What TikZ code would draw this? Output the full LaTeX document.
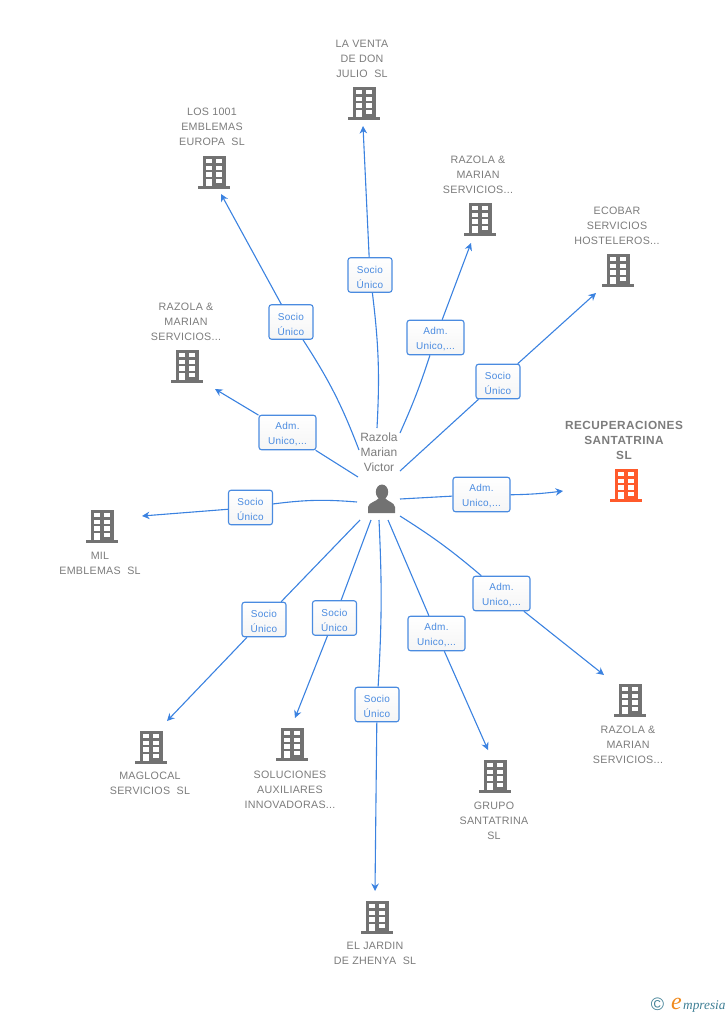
\documentclass[tikz,border=0pt]{standalone}
\usepackage{fontspec}
\setmainfont{Liberation Sans}
\newfontfamily\logofont{Liberation Serif}
\usetikzlibrary{positioning, arrows.meta}
\definecolor{linkblue}{HTML}{3B82E0}
\definecolor{boxblue}{HTML}{4A8BE0}
\definecolor{iconGray}{HTML}{727272}
\definecolor{txtGray}{HTML}{7C7C7C}
\definecolor{hiOrange}{HTML}{FF5A2B}
\definecolor{logoTeal}{HTML}{3F7F95}
\definecolor{logoOrange}{HTML}{F08A1E}
\tikzset{
  rolebox/.style={draw=boxblue, line width=1.1pt, rounded corners=2.5pt, top color=white, bottom color=black!4,
    minimum width=#1, minimum height=34.5pt, inner sep=0pt, align=center, text=boxblue,
    font=\fontsize{10}{15}\selectfont\addfontfeatures{LetterSpace=2.5}},
  firmlabel/.style={align=center, text=txtGray, font=\fontsize{10.7}{15}\selectfont\addfontfeatures{LetterSpace=2.6}},
  hilabel/.style={align=center, text=txtGray, font=\fontsize{11.8}{15}\selectfont\bfseries\addfontfeatures{LetterSpace=4.2}},
  link/.style={draw=linkblue, line width=1.1pt},
  linkend/.style={link, -{Stealth[length=7.5pt,width=7.5pt]}},
  pics/building/.style={code={
    \fill[#1] (-11.5,16.5) rectangle (11.5,-16.5);
    \fill[#1] (-16,16.5) rectangle (16,13.8);
    % ventanas
    \foreach \u in {0,1,2,3}{
      \foreach \v in {0,1}{
        \fill[white] (-7.6+\v*9.9,-12.8+\u*6.6) rectangle ++(5.3,4.2);
      }
    }
    \fill[white] (-7.6,8.8) rectangle ++(5.3,5);
  }}
}
\begin{document}
\begin{tikzpicture}[x=1pt, y=-1pt]
    \useasboundingbox (0,0) rectangle (728,1015);

    % empresas
    \foreach \n/\bx/\by/\tx/\ty/\txt in {
      venta/364/103/362/58.5/{LA VENTA\\DE DON\\JULIO\ \ SL},
      emblemas/214/172/212/126.5/{LOS 1001\\EMBLEMAS\\EUROPA\ \ SL},
      razolaA/480/219/478/174.5/{RAZOLA \&\\MARIAN\\SERVICIOS...},
      ecobar/618/270/617/225.5/{ECOBAR\\SERVICIOS\\HOSTELEROS...},
      razolaB/630/700/628/744.5/{RAZOLA \&\\MARIAN\\SERVICIOS...},
      grupo/495/776/494/820.5/{GRUPO\\SANTATRINA\\SL},
      jardin/377/917/375/953.5/{EL JARDIN\\DE ZHENYA\ \ SL},
      soluciones/292/744/290/789.5/{SOLUCIONES\\AUXILIARES\\INNOVADORAS...},
      maglocal/151/747/150/783.5/{MAGLOCAL\\SERVICIOS\ \ SL},
      mil/102/526/100/563.5/{MIL\\EMBLEMAS\ \ SL},
      razolaC/187/366/186/321.5/{RAZOLA \&\\MARIAN\\SERVICIOS...}}{
        \pic at (\bx,\by) {building=iconGray};
        \node[firmlabel] (t\n) at (\tx,\ty) {\txt};
      }
    \pic at (626,485) {building=hiOrange};
    \node[hilabel] (trecup) at (624,440) {RECUPERACIONES\\SANTATRINA\\SL};

    % persona
    \fill[iconGray] (382,492) ellipse (6.2 and 7.5);
    \fill[iconGray] (368,513) -- (368,507) .. controls (369,502) and (376,502) .. (379,498)
      -- (385,498) .. controls (388,502) and (394,502) .. (395,507) -- (395,513) -- cycle;
    \node[align=center, text=txtGray, font=\fontsize{12}{15}\selectfont] (razola) at (379,452) {Razola\\Marian\\Victor};

    % enlaces
    \foreach \n/\sx/\sy/\lx/\ly/\ex/\ey/\ba/\bb/\w/\role in {
      venta/377/428/370/275/363/126/-5/0/44/{Socio\\Único},
      emblemas/359/450/291/322/221/194/-6/0/44/{Socio\\Único},
      razolaA/400/433/435.5/337.5/471/243/-3/0/57/{Adm.\\Unico,...},
      ecobar/400/471/498/381.5/596/293/0/0/44/{Socio\\Único},
      recup/400/499/481.5/494.5/563/491/0/-3/57/{Adm.\\Unico,...},
      razolaB/400/516/501.5/593.5/604/675/4/0/57/{Adm.\\Unico,...},
      grupo/388/520/436.5/633.5/488/750/0/0/57/{Adm.\\Unico,...},
      jardin/379/520/377/704.5/375/891/3/0/44/{Socio\\Único},
      soluciones/371/520/334.5/618/295/718/0/0/44/{Socio\\Único},
      maglocal/360/520/264/619.5/167/721/0/0/44/{Socio\\Único},
      mil/357/502/250.5/507.5/142/516/-6/0/44/{Socio\\Único},
      razolaC/358/477/287.5/432.5/215/389/0/0/57/{Adm.\\Unico,...}}{
        \node[rolebox=\w pt] (b\n) at (\lx,\ly) {\rule{0pt}{11.2pt}\role};
        \coordinate (s\n) at (\sx,\sy);
        \coordinate (e\n) at (\ex,\ey);
        \draw[link] (s\n) to[bend left=\ba] (b\n);
        \draw[linkend] (b\n) to[bend left=\bb] (e\n);
      }

    % logo
    \node[text=logoTeal, font=\fontsize{18}{18}\selectfont, inner sep=0pt] (logoC) at (657.5,1004) {©};
    \node[text=logoOrange, font=\fontsize{24}{24}\selectfont\logofont\itshape, anchor=base west, inner sep=0pt] (logoE) at (671,1009) {e};
    \node[text=logoTeal, font=\fontsize{13.3}{14}\selectfont\logofont\itshape, anchor=base west, inner sep=0pt] (logoT) at (683,1009) {mpresia};
\end{tikzpicture}
\end{document}
